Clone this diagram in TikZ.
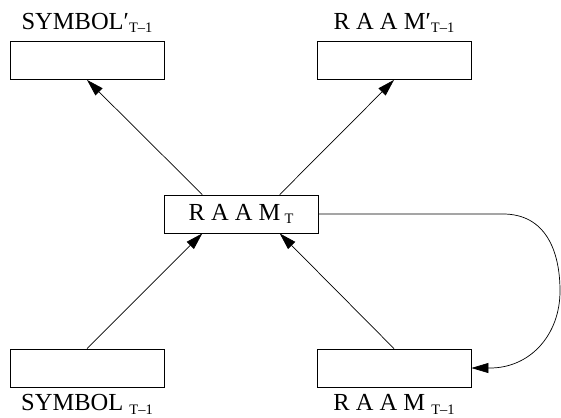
\documentclass[tikz,border=0pt]{standalone}
\usepackage{fontspec}
\setmainfont{Liberation Serif}
\usepackage{tikz}
\usetikzlibrary{arrows.meta,positioning,calc}

% lowered index after a name
\newcommand{\tsub}[1]{\raisebox{-0.3ex}{\fontsize{14.5}{14.5}\selectfont #1}}

\tikzset{
  unit/.style={draw, line width=0.8pt, minimum width=154pt, minimum height=38pt, inner sep=0pt},
  lbl/.style={inner sep=0pt, font=\fontsize{24.5}{28}\selectfont},
  flow/.style={line width=0.7pt, -{Triangle[length=17pt,width=10pt]}}
}

\begin{document}
\begin{tikzpicture}[x=1pt,y=-1pt]
        \useasboundingbox (0,0) rectangle (561,417);

        % output layer
        \node[unit] (symout) at (87,60.5) {};
        \node[unit] (raamout) at (394,60.5) {};
        % hidden layer
        \node[unit, lbl] (raam) at (241,214) {R A A M\,\tsub{T}};
        % input layer
        \node[unit] (symin) at (87,368) {};
        \node[unit] (raamin) at (394,368) {};

        \node[lbl, above=8pt of symout] {SYMBOL′\tsub{T--1}};
        \node[lbl, above=8pt of raamout] {R A A M′\tsub{T--1}};
        \node[lbl, below=7pt of symin] {SYMBOL \tsub{T--1}};
        \node[lbl, below=7pt of raamin] {R A A M \tsub{T--1}};

        \draw[flow] ($(raam.north)!0.5!(raam.north west)$) -- (symout.south);
        \draw[flow] ($(raam.north)!0.5!(raam.north east)$) -- (raamout.south);
        \draw[flow] (symin.north) -- ($(raam.south)!0.5!(raam.south west)$);
        \draw[flow] (raamin.north) -- ($(raam.south)!0.5!(raam.south east)$);

        % recurrent copy back to the input
        \draw[flow] (raam.east) -- (503,214)
            .. controls (545,214) and (560,250) .. (560,291)
            .. controls (560,335) and (530,368) .. (490,368) -- (raamin.east);
    \end{tikzpicture}
\end{document}
